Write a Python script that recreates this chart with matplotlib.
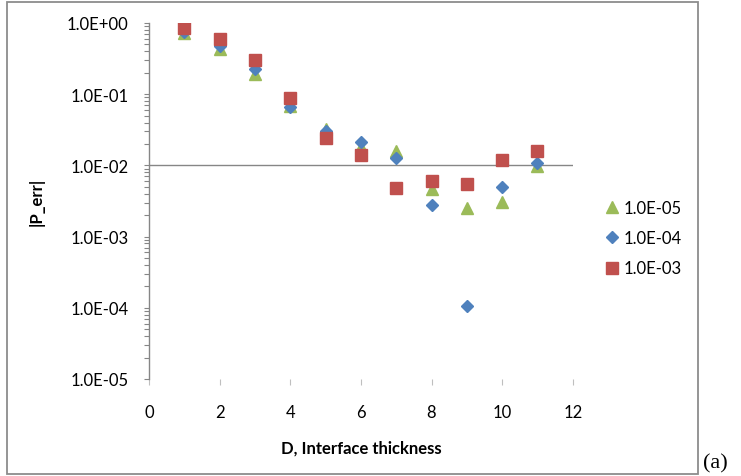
import matplotlib
matplotlib.use("Agg")
import matplotlib.pyplot as plt
from matplotlib.patches import Rectangle
from matplotlib.ticker import LogLocator, FixedLocator, FuncFormatter, NullFormatter

plt.rcParams['font.family'] = ['Lato', 'DejaVu Sans']

# interface thickness D
d = [1, 2, 3, 4, 5, 6, 7, 8, 9, 10, 11]

# |P_err| for each tolerance
err_1e5 = [0.72, 0.43, 0.19, 0.069, 0.032, 0.018, 0.0157, 0.0047, 0.0025, 0.0031, 0.0097]
err_1e4 = [0.75, 0.47, 0.226, 0.067, 0.030, 0.0213, 0.0126, 0.0028, 0.000105, 0.0050, 0.0107]
err_1e3 = [0.85, 0.60, 0.30, 0.0885, 0.0245, 0.0140, 0.0048, 0.0061, 0.0055, 0.0120, 0.0160]

labels = ['1.0E-05', '1.0E-04', '1.0E-03']

green = '#9BBB59'
blue = '#4F81BD'
red = '#C0504D'
axis_gray = '#868686'

fig = plt.figure(figsize=(7.41, 4.77), dpi=100)
ax = fig.add_axes([0.201, 0.2034, 0.572, 0.7463])

ax.plot(d, err_1e5, linestyle='none', marker='^', markersize=8, color=green, label=labels[0])
ax.plot(d, err_1e4, linestyle='none', marker='D', markersize=6, color=blue, label=labels[1])
ax.plot(d, err_1e3, linestyle='none', marker='s', markersize=8.5, color=red, label=labels[2])

ax.set_yscale('log')
ax.set_ylim(1e-5, 1)
ax.set_xlim(0, 12)

# horizontal axis crosses the y axis at 1e-2
ax.axhline(1e-2, xmin=0, xmax=1, color=axis_gray, linewidth=1.0, zorder=1)

for s in ['top', 'right', 'bottom']:
    ax.spines[s].set_visible(False)
ax.spines['left'].set_color(axis_gray)
ax.spines['left'].set_linewidth(1.0)

ax.xaxis.set_major_locator(FixedLocator(range(0, 13, 2)))
ax.yaxis.set_major_locator(LogLocator(base=10, numticks=10))
ax.yaxis.set_minor_locator(LogLocator(base=10, subs=range(2, 10), numticks=10))
ax.yaxis.set_minor_formatter(NullFormatter())
ax.yaxis.set_major_formatter(FuncFormatter(lambda v, p: '{:.1E}'.format(v)))

ax.tick_params(axis='y', which='both', direction='out', color=axis_gray,
               length=3.5, width=0.8, labelsize=12, pad=11)
ax.tick_params(axis='x', which='major', direction='out', color='#BFBFBF',
               length=4, width=0.8, labelsize=12, pad=14)

ax.set_xlabel('D, Interface thickness', fontsize=12, fontweight='bold', labelpad=14)
ax.set_ylabel('|P_err|', fontsize=12, fontweight='bold', labelpad=16)

ax.legend(loc='center left', bbox_to_anchor=(1.058, 0.396), frameon=False,
          fontsize=12, handletextpad=0.2, labelspacing=0.86, handlelength=1.0,
          borderaxespad=0)

# chart frame
fig.patches.append(Rectangle((7 / 741, 2 / 477), 691 / 741, 472 / 477,
                             transform=fig.transFigure, fill=False,
                             edgecolor='#8C8C8C', linewidth=1.3))

fig.text(703 / 741, 4 / 477, '(a)', fontsize=16, family='Liberation Serif',
         ha='left', va='bottom')

fig.savefig('out.png', dpi=100)
